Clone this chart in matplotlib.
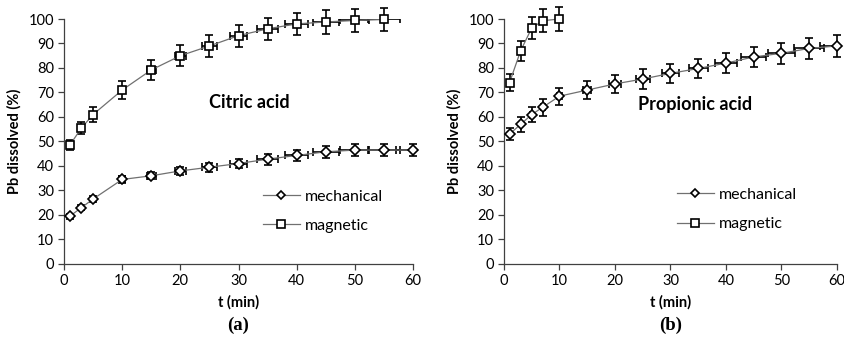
import numpy as np
import matplotlib.pyplot as plt

plt.rcParams['font.family'] = ['Lato', 'DejaVu Sans']

# Citric acid leaching (a)
t_mech_a = [1, 3, 5, 10, 15, 20, 25, 30, 35, 40, 45, 50, 55, 60]
pb_mech_a = [19.5, 23, 26.5, 34.5, 36, 38, 39.5, 41, 42.8, 44.3, 45.8, 46.5, 46.5, 46.5]
yerr_mech_a = [1, 1, 1.2, 1.5, 1.5, 1.7, 1.8, 2, 2.2, 2.3, 2.4, 2.5, 2.5, 2.5]
xerr_mech_a = [0.05, 0.15, 0.25, 0.5, 0.75, 1.0, 1.25, 1.5, 1.75, 2.0, 2.25, 2.5, 2.75, 3.0]

t_mag_a = [1, 3, 5, 10, 15, 20, 25, 30, 35, 40, 45, 50, 55]
pb_mag_a = [48.5, 55.5, 61, 71, 79.2, 85, 89, 93.2, 96, 98, 98.8, 99.4, 99.8]
yerr_mag_a = [2, 2.5, 3, 3.5, 4, 4.2, 4.5, 4.5, 4.5, 4.6, 4.8, 4.8, 4.8]
xerr_mag_a = [0.05, 0.15, 0.25, 0.5, 0.75, 1.0, 1.25, 1.5, 1.75, 2.0, 2.25, 2.5, 2.75]

# Propionic acid leaching (b)
t_mech_b = [1, 3, 5, 7, 10, 15, 20, 25, 30, 35, 40, 45, 50, 55, 60]
pb_mech_b = [53, 57, 61, 64, 68.5, 71, 73.5, 75.5, 77.8, 79.8, 82, 84.5, 86, 88, 89]
yerr_mech_b = [2.5, 3, 3, 3.4, 3.5, 3.5, 3.7, 3.9, 4, 4, 4, 4.2, 4.3, 4.4, 4.5]
xerr_mech_b = [0.05, 0.15, 0.25, 0.35, 0.5, 0.75, 1.0, 1.25, 1.5, 1.75, 2.0, 2.25, 2.5, 2.75, 3.0]

t_mag_b = [1, 3, 5, 7, 10]
pb_mag_b = [74, 87, 96.3, 99.3, 100]
yerr_mag_b = [3.5, 4, 4.5, 4.8, 4.8]
xerr_mag_b = [0.05, 0.15, 0.25, 0.35, 0.5]

panels = [
    ('Citric acid', (t_mech_a, pb_mech_a, yerr_mech_a, xerr_mech_a),
     (t_mag_a, pb_mag_a, yerr_mag_a, xerr_mag_a), '(a)'),
    ('Propionic acid', (t_mech_b, pb_mech_b, yerr_mech_b, xerr_mech_b),
     (t_mag_b, pb_mag_b, yerr_mag_b, xerr_mag_b), '(b)'),
]

fig = plt.figure(figsize=(8.45, 3.48), dpi=100)
ax_pos = [[0.0757, 0.2414, 0.4131, 0.7040],
          [0.5964, 0.2414, 0.3941, 0.7040]]
title_xy = [(0.53, 0.66), (0.574, 0.65)]
legend_anchor = [(0.57, 0.215), (0.52, 0.222)]

for i, (name, mech, mag, tag) in enumerate(panels):
    ax = fig.add_axes(ax_pos[i])
    for (t, y, ye, xe), mk, ms, lab in [(mech, 'D', 4.8, 'mechanical'),
                                        (mag, 's', 6.2, 'magnetic')]:
        # vertical bars may poke above 100 %, horizontal ones stop at the frame
        ev = ax.errorbar(t, y, yerr=ye, fmt='none', ecolor='black',
                         elinewidth=1.2, capsize=3, capthick=1.2, zorder=2)
        for art in ev.lines[1] + ev.lines[2]:
            art.set_clip_on(False)
        ax.errorbar(t, y, xerr=xe, fmt='none', ecolor='black',
                    elinewidth=1.2, capsize=3, capthick=1.2, zorder=2)
        line, = ax.plot(t, y, color='#707070', lw=0.9, marker=mk, ms=ms,
                        mfc='white', mec='black', mew=1.2, label=lab, zorder=3)
        line.set_clip_on(False)
    ax.set_xlim(0, 60)
    ax.set_ylim(0, 100)
    ax.set_xticks(np.arange(0, 61, 10))
    ax.set_yticks(np.arange(0, 101, 10))
    for s in ['top', 'right']:
        ax.spines[s].set_visible(False)
    for s in ['left', 'bottom']:
        ax.spines[s].set_color('#404040')
        ax.spines[s].set_linewidth(0.9)
    ax.tick_params(direction='out', length=4, width=0.9, color='#404040',
                   labelsize=10.5, pad=3)
    ax.set_ylabel('Pb dissolved (%)', fontsize=10.5, fontweight='bold', labelpad=5)
    ax.set_xlabel('t (min)', fontsize=10.5, fontweight='bold', labelpad=5)
    ax.text(title_xy[i][0], title_xy[i][1], name, transform=ax.transAxes,
            fontsize=13, fontweight='bold', ha='center', va='center')
    ax.legend(loc='center left', bbox_to_anchor=legend_anchor[i], frameon=False,
              fontsize=11.5, handlelength=2.3, labelspacing=0.95, handletextpad=0.3,
              borderpad=0, borderaxespad=0, markerscale=0.85)
    ax.text(0.5, -0.25, tag, transform=ax.transAxes, ha='center', va='center',
            fontsize=13.5, fontweight='bold', family='Liberation Serif')

fig.savefig('out.png', dpi=100)
